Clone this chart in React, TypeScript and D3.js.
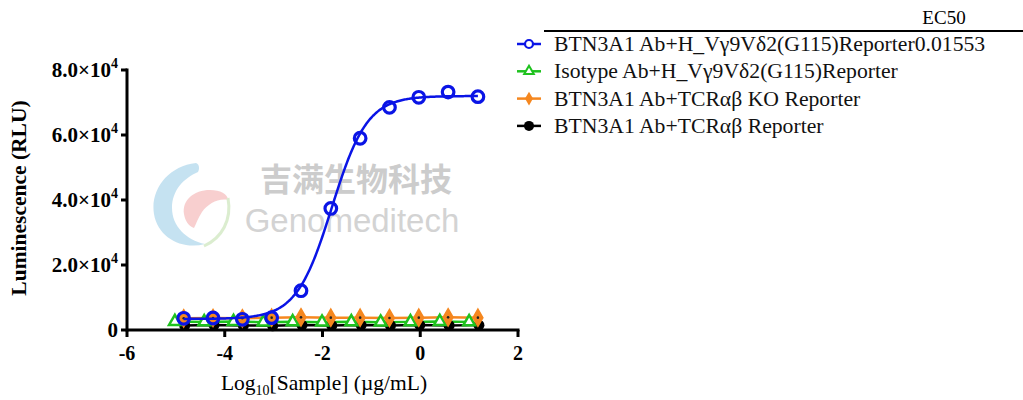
import { useEffect, useRef } from "react";
import * as d3 from "d3";

// log10 concentrations (µg/mL), 4-fold dilution series
const logConcA = [-4.84, -4.24, -3.64, -3.04, -2.44, -1.83, -1.23, -0.63, -0.03, 0.57, 1.18];
const logConcB = [-5.02, -4.42, -3.82, -3.21, -2.61, -2.01, -1.41, -0.81, -0.2, 0.4, 1.0];

const btnG115 = [3600, 3700, 3300, 3800, 12100, 37400, 59000, 68500, 71600, 73200, 71800];
const isoG115 = [2600, 2500, 2600, 2400, 2500, 2400, 2500, 2400, 2500, 2600, 2500];
const btnKO = [3600, 3700, 3600, 3800, 3900, 3800, 3800, 3700, 3800, 3900, 3800];
const btnTCR = [1400, 1500, 1400, 1300, 1500, 1400, 1500, 1400, 1500, 1400, 1500];

// 4PL fit for the blue series: bottom, top, logEC50, hill slope
const fitParams = [3400, 72000, Math.log10(0.01553), 1.2];

const yTicks = [0, 20000, 40000, 60000, 80000];
const yTickLabels = ["0", "2.0×10", "4.0×10", "6.0×10", "8.0×10"];
const xTicks = [-6, -4, -2, 0, 2];

const legendLabels = [
  "BTN3A1 Ab+H_Vγ9Vδ2(G115)Reporter0.01553",
  "Isotype Ab+H_Vγ9Vδ2(G115)Reporter",
  "BTN3A1 Ab+TCRαβ KO Reporter",
  "BTN3A1 Ab+TCRαβ Reporter",
];
const colors = ["#0a14e6", "#1fc21f", "#f5871f", "#000000"];

export default function App() {
  const ref = useRef<SVGSVGElement>(null);

  useEffect(() => {
    const svg = d3.select(ref.current);
    svg.selectAll("*").remove();

    const x = d3.scaleLinear().domain([-6, 2]).range([127, 518]);
    const y = d3.scaleLinear().domain([0, 80000]).range([330, 70]);
    const serif = "'Liberation Serif', 'Times New Roman', serif";

    // watermark
    const wm = svg.append("g").attr("opacity", 0.5);
    wm.append("path")
      .attr("d", "M196,163 C168,166 150,190 154,214 C158,238 182,250 205,244 C186,240 172,226 172,208 C172,190 184,178 198,172 C200,168 199,164 196,163 Z")
      .attr("fill", "#8cc6e4");
    wm.append("path")
      .attr("d", "M184,214 C182,200 194,190 210,190 C220,190 228,194 228,200 C218,198 208,204 202,212 C198,218 196,224 194,228 C188,226 185,220 184,214 Z")
      .attr("fill", "#f2a0a0");
    wm.append("path")
      .attr("d", "M228,198 C232,220 222,238 204,246")
      .attr("fill", "none")
      .attr("stroke", "#b8dca0")
      .attr("stroke-width", 3);
    wm.append("text")
      .attr("x", 356)
      .attr("y", 191)
      .attr("text-anchor", "middle")
      .attr("font-family", "'Noto Sans CJK SC', sans-serif")
      .attr("font-weight", 700)
      .attr("font-size", 32)
      .attr("fill", "#9a9a9a")
      .text("吉满生物科技");
    wm.append("text")
      .attr("x", 352)
      .attr("y", 232)
      .attr("text-anchor", "middle")
      .attr("font-family", "'Liberation Sans', Arial, sans-serif")
      .attr("font-size", 33)
      .attr("fill", "#a8a8a8")
      .text("Genomeditech");

    // axes
    const ax = svg.append("g").attr("stroke", "#000").attr("stroke-width", 3);
    ax.append("line").attr("x1", x(-6)).attr("x2", x(2) + 1.5).attr("y1", y(0)).attr("y2", y(0));
    ax.append("line").attr("x1", x(-6)).attr("x2", x(-6)).attr("y1", y(0) + 1.5).attr("y2", y(80000) - 1.5);
    yTicks.forEach((t) => {
      ax.append("line").attr("x1", x(-6) - 6).attr("x2", x(-6)).attr("y1", y(t)).attr("y2", y(t));
    });
    xTicks.forEach((t) => {
      ax.append("line").attr("x1", x(t)).attr("x2", x(t)).attr("y1", y(0)).attr("y2", y(0) + 7);
    });

    yTicks.forEach((t, i) => {
      const tx = svg.append("text")
        .attr("x", x(-6) - 9)
        .attr("y", y(t) + 7)
        .attr("text-anchor", "end")
        .attr("font-family", serif)
        .attr("font-weight", 700)
        .attr("font-size", 21);
      tx.append("tspan").text(yTickLabels[i]);
      if (t > 0) tx.append("tspan").attr("dy", -9).attr("font-size", 14).text("4");
    });
    xTicks.forEach((t) => {
      svg.append("text")
        .attr("x", x(t))
        .attr("y", y(0) + 30)
        .attr("text-anchor", "middle")
        .attr("font-family", serif)
        .attr("font-weight", 700)
        .attr("font-size", 20)
        .text(t);
    });

    const xl = svg.append("text")
      .attr("x", 324)
      .attr("y", 390)
      .attr("text-anchor", "middle")
      .attr("font-family", serif)
      .attr("font-size", 21.5);
    xl.append("tspan").text("Log");
    xl.append("tspan").attr("dy", 5).attr("font-size", 14).text("10");
    xl.append("tspan").attr("dy", -5).text("[Sample] (µg/mL)");

    svg.append("text")
      .attr("transform", `translate(26,198) rotate(-90)`)
      .attr("text-anchor", "middle")
      .attr("font-family", serif)
      .attr("font-weight", 700)
      .attr("font-size", 21.5)
      .text("Luminescence (RLU)");

    // lines
    const line = d3.line<[number, number]>().x((d) => x(d[0])).y((d) => y(d[1]));
    const [bottom, top, logEC50, hill] = fitParams;
    const fitX = d3.range(logConcA[0], logConcA[logConcA.length - 1] + 0.001, 0.02);
    const fit = fitX.map((v) => [v, bottom + (top - bottom) / (1 + Math.pow(10, (logEC50 - v) * hill))] as [number, number]);

    const zip = (xs: number[], ys: number[]) => xs.map((v, i) => [v, ys[i]] as [number, number]);

    svg.append("path").attr("d", line(zip(logConcA, btnTCR))).attr("fill", "none").attr("stroke", colors[3]).attr("stroke-width", 2.5);
    svg.append("path").attr("d", line(zip(logConcB, isoG115))).attr("fill", "none").attr("stroke", colors[1]).attr("stroke-width", 2.5);
    svg.append("path").attr("d", line(zip(logConcA, btnKO))).attr("fill", "none").attr("stroke", colors[2]).attr("stroke-width", 2.5);

    // black circles
    svg.selectAll(".blk").data(zip(logConcA, btnTCR)).enter().append("circle")
      .attr("cx", (d) => x(d[0]) + 1).attr("cy", (d) => y(d[1])).attr("r", 5.5).attr("fill", colors[3]);

    // green triangles
    const tri = d3.symbol().type(d3.symbolTriangle).size(60);
    svg.selectAll(".tri").data(zip(logConcB, isoG115)).enter().append("path")
      .attr("d", tri)
      .attr("transform", (d) => `translate(${x(d[0])},${y(d[1])})`)
      .attr("fill", "#fff").attr("stroke", colors[1]).attr("stroke-width", 2.5);

    // orange diamonds
    const dia = d3.symbol().type(d3.symbolDiamond).size(85);
    const kog = svg.selectAll(".dia").data(zip(logConcA, btnKO)).enter().append("g")
      .attr("transform", (d) => `translate(${x(d[0])},${y(d[1])})`);
    kog.append("path").attr("d", dia).attr("fill", colors[2]).attr("stroke", colors[2]).attr("stroke-width", 1.5);
    kog.append("circle").attr("r", 1.3).attr("fill", "#222");

    // blue fit + open circles
    svg.append("path").attr("d", line(fit)).attr("fill", "none").attr("stroke", colors[0]).attr("stroke-width", 2.5);
    svg.selectAll(".blu").data(zip(logConcA, btnG115)).enter().append("circle")
      .attr("cx", (d) => x(d[0])).attr("cy", (d) => y(d[1])).attr("r", 5.8)
      .attr("fill", "none").attr("stroke", colors[0]).attr("stroke-width", 3.2);

    // legend
    svg.append("text")
      .attr("x", 944).attr("y", 24).attr("text-anchor", "middle")
      .attr("font-family", serif).attr("font-size", 19).text("EC50");
    svg.append("line").attr("x1", 544).attr("x2", 1023).attr("y1", 31).attr("y2", 31)
      .attr("stroke", "#000").attr("stroke-width", 2);

    const lg = svg.selectAll(".lg").data(legendLabels).enter().append("g")
      .attr("transform", (_, i) => `translate(517,${44 + i * 27.3})`);
    lg.append("line").attr("x1", 0).attr("x2", 24).attr("stroke", (_, i) => colors[i]).attr("stroke-width", 2.5);
    lg.each(function (_, i) {
      const g = d3.select(this);
      if (i === 0) g.append("circle").attr("cx", 12).attr("r", 4).attr("fill", "#fff").attr("stroke", colors[0]).attr("stroke-width", 2.2);
      if (i === 1) g.append("path").attr("d", d3.symbol().type(d3.symbolTriangle).size(40)).attr("transform", "translate(12,0)").attr("fill", "#fff").attr("stroke", colors[1]).attr("stroke-width", 2);
      if (i === 2) g.append("path").attr("d", d3.symbol().type(d3.symbolDiamond).size(55)).attr("transform", "translate(12,0)").attr("fill", colors[2]);
      if (i === 3) g.append("circle").attr("cx", 12).attr("r", 5).attr("fill", colors[3]);
    });
    lg.append("text").attr("x", 37).attr("y", 7)
      .attr("font-family", serif).attr("font-size", 21.7).attr("fill", "#111")
      .text((d) => d);
  }, []);

  return (
    <svg
      ref={ref}
      width={1023}
      height={400}
      style={{ position: "absolute", left: 0, top: 0, background: "#fff" }}
    />
  );
}
